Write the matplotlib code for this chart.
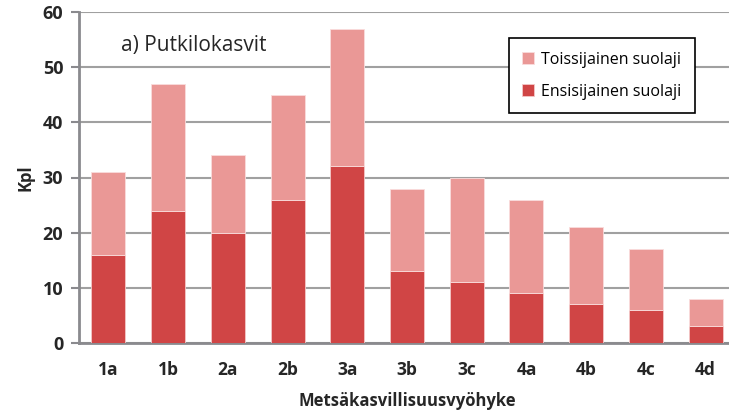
import numpy as np
import matplotlib.pyplot as plt

plt.rcParams['font.family'] = ['Open Sans', 'DejaVu Sans']

vyohyke = ['1a', '1b', '2a', '2b', '3a', '3b', '3c', '4a', '4b', '4c', '4d']
ensisijainen = [16, 24, 20, 26, 32, 13, 11, 9, 7, 6, 3]
toissijainen = [15, 23, 14, 19, 25, 15, 19, 17, 14, 11, 5]

fig = plt.figure(figsize=(7.29, 4.13), dpi=100)
ax = fig.add_axes([78.5/729, 1 - 343/413, 657/729, 331/413])

x = np.arange(len(vyohyke))
ax.bar(x, ensisijainen, width=0.57, color='#D04545', edgecolor='#f4c8c8', linewidth=0.6,
       label='Ensisijainen suolaji', zorder=3)
ax.bar(x, toissijainen, width=0.57, bottom=ensisijainen, color='#EA9896', edgecolor='#f9dcdc',
       linewidth=0.6, label='Toissijainen suolaji', zorder=3)

ax.set_xlim(-0.5, len(vyohyke) - 0.5)
ax.set_ylim(0, 60)
ax.set_yticks(range(0, 61, 10))
ax.set_xticks(x)
ax.set_xticklabels(vyohyke)
ax.yaxis.grid(True, color='#a0a0a0', linewidth=1.5, zorder=0)
ax.set_axisbelow(True)
for s in ['top', 'right']:
    ax.spines[s].set_visible(False)
ax.spines['left'].set_color('#8a8a8e')
ax.spines['left'].set_linewidth(2)
ax.spines['bottom'].set_color('#8a8a8e')
ax.spines['bottom'].set_linewidth(2)
ax.tick_params(axis='y', length=6, width=1.5, color='#8a8a8e', labelsize=13, pad=5)
ax.tick_params(axis='x', length=0, labelsize=12.5, pad=13)
for t in ax.get_xticklabels() + ax.get_yticklabels():
    t.set_fontweight('bold')
    t.set_color('#262626')

ax.set_ylabel('Kpl', fontweight='bold', fontsize=12, color='#262626', labelpad=6)
ax.set_xlabel('Metsäkasvillisuusvyöhyke', fontweight='bold', fontsize=12, color='#262626', labelpad=9)

ax.text(0.064, 0.90, 'a) Putkilokasvit', transform=ax.transAxes, fontsize=15, color='#262626',
        va='center', ha='left')

h, l = ax.get_legend_handles_labels()
leg = ax.legend(h[::-1], l[::-1], loc='upper left', bbox_to_anchor=(0.655, 0.921), borderaxespad=0,
                fontsize=11.5, frameon=True, fancybox=False, edgecolor='black',
                handlelength=0.75, handleheight=0.75, handletextpad=0.4,
                labelspacing=1.0, borderpad=0.85)
leg.get_frame().set_linewidth(1.2)
leg.get_frame().set_alpha(1)

plt.savefig('out.png', dpi=100)
